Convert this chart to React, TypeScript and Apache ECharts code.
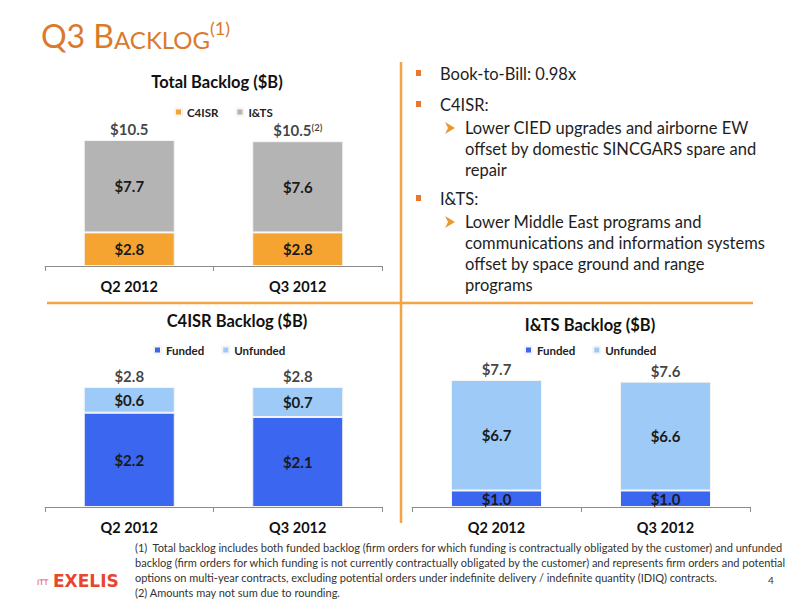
import React, { useEffect, useRef } from "react";
import * as echarts from "echarts";

const categories = ["Q2 2012", "Q3 2012"];
const totalC4isr = [2.8, 2.8];
const totalIts = [7.7, 7.6];
const totalLabels = ["$10.5", "$10.5"];
const totalNotes = ["", "(2)"];
const c4Funded = [2.2, 2.1];
const c4Unfunded = [0.6, 0.7];
const c4Labels = ["$2.8", "$2.8"];
const itsFunded = [1.0, 1.0];
const itsUnfunded = [6.7, 6.6];
const itsLabels = ["$7.7", "$7.6"];

const bulletLines = [
  { kind: "main", text: "Book-to-Bill: 0.98x", y: 74 },
  { kind: "main", text: "C4ISR:", y: 105 },
  { kind: "sub", text: "Lower CIED upgrades and airborne EW", y: 128 },
  { kind: "cont", text: "offset by domestic SINCGARS spare and", y: 149 },
  { kind: "cont", text: "repair", y: 170 },
  { kind: "main", text: "I&TS:", y: 199 },
  { kind: "sub", text: "Lower Middle East programs and", y: 222 },
  { kind: "cont", text: "communications and information systems", y: 243 },
  { kind: "cont", text: "offset by space ground and range", y: 264 },
  { kind: "cont", text: "programs", y: 285 },
];

const footnotes = [
  "(1)  Total backlog includes both funded backlog (firm orders for which funding is contractually obligated by the customer) and unfunded",
  "backlog (firm orders for which funding is not currently contractually obligated by the customer) and represents firm orders and potential",
  "options on multi-year contracts, excluding potential orders under indefinite delivery / indefinite quantity (IDIQ) contracts.",
  "(2) Amounts may not sum due to rounding.",
];

const ORANGE = "#F6A431";
const GRAY = "#B4B4B4";
const BLUE = "#3A66F0";
const LIGHT = "#9DCAF6";
const FONT = "Lato, 'Noto Sans', sans-serif";

function sum(a: number[], b: number[]) {
  return a.map((v, i) => Math.round((v + b[i]) * 10) / 10);
}

export default function App() {
  const ref = useRef<HTMLDivElement>(null);
  useEffect(() => {
    if (!ref.current) return;
    const chart = echarts.init(ref.current, undefined, { renderer: "svg" });

    const grids = [
      { left: 45, top: 140, width: 337, height: 126 },
      { left: 45, top: 387, width: 337, height: 120 },
      { left: 412, top: 380, width: 338, height: 127 },
    ];
    const maxes = [10.5, 2.8, 7.7];

    const xAxes = grids.map((_, i) => ({
      type: "category" as const,
      gridIndex: i,
      data: categories,
      axisLine: { lineStyle: { color: "#8c8c8c", width: 1 } },
      axisTick: { show: true, length: 5, lineStyle: { color: "#8c8c8c" } },
      axisLabel: { fontFamily: FONT, fontWeight: "bold", fontSize: 14.5, color: "#111", margin: 13 },
    }));
    const yAxes = grids.map((_, i) => ({
      type: "value" as const,
      gridIndex: i,
      min: 0,
      max: maxes[i],
      show: false,
      splitLine: { show: false },
    }));

    const barLabel = {
      show: true,
      position: "inside" as const,
      fontFamily: FONT,
      fontWeight: "bold" as const,
      fontSize: 15,
      color: "#1a1a1a",
      formatter: (p: any) => "$" + Number(p.value).toFixed(1),
    };
    const bar = (name: string, data: number[], color: string, gi: number, stack: string) => ({
      type: "bar" as const,
      name,
      data,
      stack,
      xAxisIndex: gi,
      yAxisIndex: gi,
      barWidth: 91,
      itemStyle: { color, borderColor: "#f4f4f4", borderWidth: 1 },
      label: barLabel,
    });
    const totalSeries = (gi: number, values: number[], labels: string[], notes: string[]) => ({
      type: "scatter" as const,
      xAxisIndex: gi,
      yAxisIndex: gi,
      symbolSize: 1,
      clip: false,
      itemStyle: { color: "rgba(0,0,0,0)" },
      silent: true,
      data: values,
      label: {
        show: true,
        position: "top" as const,
        distance: 3,
        fontFamily: FONT,
        fontWeight: "bold" as const,
        fontSize: 15,
        color: "#111",
        formatter: (p: any) =>
          notes[p.dataIndex] ? `{v|${labels[p.dataIndex]}}{s|${notes[p.dataIndex]}}` : `{v|${labels[p.dataIndex]}}`,
        rich: {
          v: { fontFamily: FONT, fontWeight: "bold", fontSize: 15, color: "#111" },
          s: { fontFamily: FONT, fontWeight: "bold", fontSize: 9.5, color: "#111", verticalAlign: "top", lineHeight: 10 },
        },
      },
    });

    const legendStyle = {
      orient: "horizontal" as const,
      icon: "rect",
      itemWidth: 7,
      itemHeight: 7,
      itemGap: 17,
      padding: 0,
      textStyle: { fontFamily: FONT, fontWeight: "bold" as const, fontSize: 11.5, color: "#222" },
    };

    const graphic: any[] = [];
    graphic.push({
      type: "text",
      left: 41,
      top: 19,
      style: {
        text: "{a|Q3 B}{b|ACKLOG}{c|(1)}",
        fill: "#D97A2C",
        rich: {
          a: { fontFamily: FONT, fontSize: 32, lineHeight: 32, verticalAlign: "bottom", fill: "#D97A2C" },
          b: { fontFamily: FONT, fontSize: 24, lineHeight: 24, verticalAlign: "bottom", fill: "#D97A2C" },
          c: { fontFamily: FONT, fontSize: 18, lineHeight: 18, verticalAlign: "top", fill: "#D97A2C" },
        },
      },
    });
    const titles = [
      { t: "Total Backlog ($B)", x: 217, y: 82 },
      { t: "C4ISR Backlog ($B)", x: 237, y: 321 },
      { t: "I&TS Backlog ($B)", x: 590, y: 325 },
    ];
    titles.forEach((c) =>
      graphic.push({
        type: "text",
        x: c.x,
        y: c.y,
        style: {
          text: c.t,
          fontFamily: FONT,
          fontWeight: "bold",
          fontSize: 16.5,
          fill: "#111",
          align: "center",
          verticalAlign: "middle",
        },
      })
    );
    graphic.push({
      type: "line",
      shape: { x1: 401, y1: 62, x2: 401, y2: 523 },
      style: { stroke: "#F2A544", lineWidth: 2.5 },
    });
    graphic.push({
      type: "line",
      shape: { x1: 47, y1: 303, x2: 753, y2: 303 },
      style: { stroke: "#F2A544", lineWidth: 2.5 },
    });
    bulletLines.forEach((b) => {
      if (b.kind === "main") {
        graphic.push({ type: "rect", shape: { x: 416, y: b.y - 4, width: 5, height: 6 }, style: { fill: "#E8782A" } });
      } else if (b.kind === "sub") {
        graphic.push({
          type: "polygon",
          shape: { points: [[445, b.y - 6], [455, b.y], [445, b.y + 6], [448, b.y]] },
          style: { fill: "#E89A32" },
        });
      }
      graphic.push({
        type: "text",
        x: b.kind === "main" ? 440 : 465,
        y: b.y,
        style: {
          text: b.text,
          fontFamily: FONT,
          fontSize: 16.5,
          fill: "#1e1e1e",
          verticalAlign: "middle",
        },
      });
    });
    footnotes.forEach((f, i) =>
      graphic.push({
        type: "text",
        x: 135,
        y: 547 + i * 15,
        style: {
          text: f,
          fontFamily: "'Liberation Sans Narrow', Lato, sans-serif",
          fontSize: 11,
          fill: "#333",
          verticalAlign: "middle",
        },
      })
    );
    graphic.push({
      type: "text",
      x: 768,
      y: 580,
      style: { text: "4", fontFamily: FONT, fontSize: 10, fill: "#333", verticalAlign: "middle" },
    });
    graphic.push({
      type: "text",
      x: 37,
      y: 582,
      style: { text: "ITT", fontFamily: "'DejaVu Sans', sans-serif", fontSize: 7.5, fill: "#E8472E", verticalAlign: "middle" },
    });
    graphic.push({
      type: "text",
      x: 53,
      y: 581,
      style: {
        text: "EXELIS",
        fontFamily: "'DejaVu Sans', sans-serif",
        fontWeight: "bold",
        fontSize: 17,
        fill: "#E8472E",
        verticalAlign: "middle",
      },
    });

    chart.setOption({
      animation: false,
      backgroundColor: "#fff",
      grid: grids,
      xAxis: xAxes,
      yAxis: yAxes,
      legend: [
        { ...legendStyle, left: 174, top: 106, data: ["C4ISR", "I&TS"] },
        { ...legendStyle, left: 153, top: 344, data: ["Funded", "Unfunded"] },
        { ...legendStyle, left: 524, top: 344, data: ["Funded", "Unfunded"] },
      ],
      series: [
        bar("C4ISR", totalC4isr, ORANGE, 0, "t"),
        bar("I&TS", totalIts, GRAY, 0, "t"),
        totalSeries(0, sum(totalC4isr, totalIts), totalLabels, totalNotes),
        bar("Funded", c4Funded, BLUE, 1, "c"),
        bar("Unfunded", c4Unfunded, LIGHT, 1, "c"),
        totalSeries(1, sum(c4Funded, c4Unfunded), c4Labels, ["", ""]),
        bar("Funded", itsFunded, BLUE, 2, "i"),
        bar("Unfunded", itsUnfunded, LIGHT, 2, "i"),
        totalSeries(2, sum(itsFunded, itsUnfunded), itsLabels, ["", ""]),
      ],
      graphic,
    });
    return () => chart.dispose();
  }, []);
  return (
    <div
      ref={ref}
      style={{ position: "fixed", left: 0, top: 0, width: 800, height: 600, background: "#fff" }}
    />
  );
}
